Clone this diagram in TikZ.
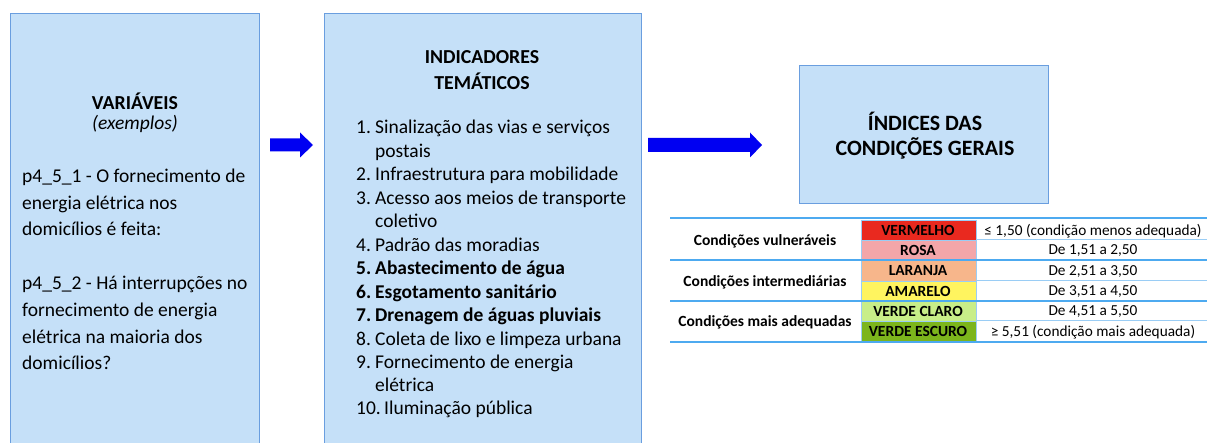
\documentclass[tikz,border=0pt]{standalone}
\usepackage{fontspec}
\setmainfont{Carlito}
\definecolor{boxfill}{HTML}{C5E0F8}
\definecolor{boxline}{HTML}{6A9EDF}
\definecolor{arrowc}{HTML}{0000F2}
\definecolor{tline}{HTML}{4DAAF0}
\definecolor{tlinel}{HTML}{9ACDF5}
\definecolor{cred}{HTML}{E9291F}
\definecolor{crosa}{HTML}{F3A6A9}
\definecolor{claranja}{HTML}{F7B68B}
\definecolor{camarelo}{HTML}{FFF45F}
\definecolor{cvclaro}{HTML}{C8EE88}
\definecolor{cvescuro}{HTML}{7CB51C}
\tikzset{
  panel/.style={draw=boxline, fill=boxfill, line width=1pt, anchor=north west, inner sep=0pt},
  bodytxt/.style={anchor=mid west, inner sep=0pt, yshift=-4pt, font=\fontsize{19.5}{22}\selectfont},
  listtxt/.style={anchor=mid west, inner sep=0pt, yshift=-4pt, font=\fontsize{19.5}{22}\selectfont},
  listbold/.style={anchor=mid west, inner sep=0pt, yshift=-4pt, font=\fontsize{19.5}{22}\selectfont\bfseries},
  ttl/.style={inner sep=0pt, font=\fontsize{19.8}{22}\selectfont\bfseries},
  bigttl/.style={inner sep=0pt, font=\fontsize{21.9}{24}\selectfont\bfseries},
  tlab/.style={inner sep=0pt, font=\fontsize{15.5}{17}\selectfont\bfseries},
  tval/.style={inner sep=0pt, yshift=-1pt, font=\fontsize{15.3}{17}\selectfont},
  cell/.style={draw=tlinel, line width=0.5pt, anchor=north west, inner sep=0pt},
  blockarrow/.style={fill=arrowc, draw=none},
}
\begin{document}
\begin{tikzpicture}[x=1pt,y=-1pt]
\useasboundingbox (0,0) rectangle (1207,443);
\clip (0,0) rectangle (1207,443);
% panels
\node[panel, minimum width=249pt, minimum height=450pt] (var) at (10,13) {};
\node[panel, minimum width=317pt, minimum height=450pt] (ind) at (324,13) {};
\node[panel, minimum width=249pt, minimum height=138pt] (idx) at (799,65) {};
% panel 1 text
\node[ttl] (vart) at (135,101) {VARIÁVEIS};
\node[inner sep=0pt, font=\fontsize{19.5}{22}\selectfont\itshape] (vare) at (135,124) {(exemplos)};
\foreach \yy/\t [count=\i] in {
  176/{p4\_5\_1 - O fornecimento de},
  203/{energia elétrica nos},
  229/{domicílios é feita:},
  283/{p4\_5\_2 - Há interrupções no},
  310/{fornecimento de energia},
  337/{elétrica na maioria dos},
  363/{domicílios?}}
  \node[bodytxt, name=vl\i] at (22,\yy) {\t};
% panel 2 text
\node[ttl] (indt1) at (482,57) {INDICADORES};
\node[ttl] (indt2) at (482,81) {TEMÁTICOS};
\foreach \yy/\n/\t [count=\i] in {
  127/{1.}/{Sinalização das vias e serviços},
  151/{}/{postais},
  174/{2.}/{Infraestrutura para mobilidade},
  198/{3.}/{Acesso aos meios de transporte},
  221/{}/{coletivo},
  245/{4.}/{Padrão das moradias},
  339/{8.}/{Coleta de lixo e limpeza urbana},
  362/{9.}/{Fornecimento de energia},
  385/{}/{elétrica}}
{
  \node[listtxt, name=ln\i] at (356,\yy) {\n};
  \node[listtxt, name=lt\i] at (375,\yy) {\t};
}
\foreach \yy/\n/\t [count=\i] in {
  268/{5.}/{Abastecimento de água},
  292/{6.}/{Esgotamento sanitário},
  315/{7.}/{Drenagem de águas pluviais}}
{
  \node[listbold, name=bn\i] at (356,\yy) {\n};
  \node[listbold, name=bt\i] at (375,\yy) {\t};
}
\node[listtxt, name=ln10] at (356,408) {10.};
\node[listtxt, name=lt10] at (384,408) {Iluminação pública};
% panel 3 text
\node[bigttl] (idxt1) at (925,121) {ÍNDICES DAS};
\node[bigttl] (idxt2) at (925,148) {CONDIÇÕES GERAIS};
% block arrows
\coordinate (a1) at (270,145);
\coordinate (a2) at (648,145);
\fill[blockarrow] (a1) ++(0,-6.5) -- ++(30,0) -- ++(0,-6) -- ++(13,12.5) -- ++(-13,12.5) -- ++(0,-6) -- ++(-30,0) -- cycle;
\fill[blockarrow] (a2) ++(0,-7) -- ++(102,0) -- ++(0,-5.5) -- ++(12,12.5) -- ++(-12,12.5) -- ++(0,-5.5) -- ++(-102,0) -- cycle;
% table cells
\foreach \yt/\h/\c/\t [count=\i] in {
  220/20/cred/VERMELHO,
  240/20/crosa/ROSA,
  260/21/claranja/LARANJA,
  281/20/camarelo/AMARELO,
  301/20/cvclaro/{VERDE CLARO},
  321/20/cvescuro/{VERDE ESCURO}}
  \node[cell, fill=\c, minimum width=115pt, minimum height=\h pt, name=c\i] at (861,\yt) {};
\foreach \yy/\t [count=\i] in {
  230/VERMELHO, 250/ROSA, 271/LARANJA, 291/AMARELO, 311/{VERDE CLARO}, 331/{VERDE ESCURO}}
  \node[tlab, name=cl\i] at (918,\yy) {\t};
\foreach \yy/\t [count=\i] in {
  230/{≤ 1,50 (condição menos adequada)},
  250/{De 1,51 a 2,50},
  271/{De 2,51 a 3,50},
  291/{De 3,51 a 4,50},
  311/{De 4,51 a 5,50},
  331/{≥ 5,51 (condição mais adequada)}}
  \node[tval, name=cv\i] at (1093,\yy) {\t};
\node[tlab] (g1) at (765,241) {Condições vulneráveis};
\node[tlab] (g2) at (765,282) {Condições intermediárias};
\node[tlab] (g3) at (765,322) {Condições mais adequadas};
% table rules
\foreach \yy in {240,281,321}
  \draw[tlinel, line width=1pt] (976,\yy) -- (1207,\yy);
\foreach \yy in {218,260,301,342}
  \draw[tline, line width=2.5pt] (670,\yy) -- (1207,\yy);
\end{tikzpicture}
\end{document}
